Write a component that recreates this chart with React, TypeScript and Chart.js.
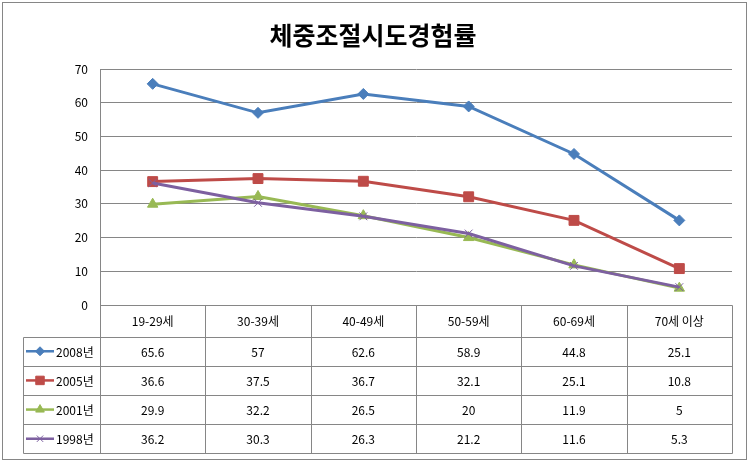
import React, { useEffect, useRef } from "react";
import { Chart, registerables } from "chart.js";
import { drawPoint } from "chart.js/helpers";

Chart.register(...registerables);

const title = "체중조절시도경험률";
const categories = ["19-29세", "30-39세", "40-49세", "50-59세", "60-69세", "70세 이상"];
const seriesNames = ["2008년", "2005년", "2001년", "1998년"];
const v2008 = [65.6, 57, 62.6, 58.9, 44.8, 25.1];
const v2005 = [36.6, 37.5, 36.7, 32.1, 25.1, 10.8];
const v2001 = [29.9, 32.2, 26.5, 20, 11.9, 5];
const v1998 = [36.2, 30.3, 26.3, 21.2, 11.6, 5.3];
const yTicks = [0, 10, 20, 30, 40, 50, 60, 70];

const colors = ["#4A7EBB", "#BE4B48", "#98B954", "#7D60A0"];
const shapes = ["rectRot", "rect", "triangle", "crossRot"];
const radii = [5.5, 7, 6, 5.5];
const FONT = "'Noto Sans CJK KR', 'Noto Sans', sans-serif";
const GRID = "#868686";

const tablePlugin = {
  id: "tableTitle",
  afterDraw(chart: any) {
    const { ctx, chartArea } = chart;
    const x = chart.scales.x;
    ctx.save();
    // outer border
    ctx.strokeStyle = GRID;
    ctx.lineWidth = 1;
    ctx.strokeRect(2.5, 2.5, 744, 457);
    // title
    ctx.fillStyle = "#000";
    ctx.font = `bold 25px ${FONT}`;
    ctx.textAlign = "center";
    ctx.textBaseline = "middle";
    ctx.fillText(title, 373, 35);

    // table geometry
    const half = (x.getPixelForValue(1) - x.getPixelForValue(0)) / 2;
    const edges: number[] = categories.map((_, i) => x.getPixelForValue(i) - half);
    edges.push(x.getPixelForValue(categories.length - 1) + half);
    const top = chartArea.bottom;
    const headerBottom = top + 31.7;
    const rowH = 29.15;
    const legendLeft = 23;
    const rowYs = [headerBottom];
    for (let r = 0; r < seriesNames.length; r++) rowYs.push(headerBottom + rowH * (r + 1));
    const bottom = rowYs[rowYs.length - 1];
    const px = (v: number) => Math.round(v) + 0.5;

    ctx.strokeStyle = GRID;
    ctx.lineWidth = 1;
    ctx.beginPath();
    ctx.moveTo(px(edges[0]), px(top));
    ctx.lineTo(px(edges[edges.length - 1]), px(top));
    for (const y of rowYs) {
      ctx.moveTo(px(legendLeft), px(y));
      ctx.lineTo(px(edges[edges.length - 1]), px(y));
    }
    for (const e of edges) {
      ctx.moveTo(px(e), px(top));
      ctx.lineTo(px(e), px(bottom));
    }
    ctx.moveTo(px(legendLeft), px(headerBottom));
    ctx.lineTo(px(legendLeft), px(bottom));
    ctx.stroke();

    // header
    ctx.fillStyle = "#000";
    ctx.font = `12px ${FONT}`;
    ctx.textAlign = "center";
    ctx.textBaseline = "middle";
    categories.forEach((c, i) => {
      ctx.fillText(c, x.getPixelForValue(i), (top + headerBottom) / 2 + 1);
    });

    // rows
    chart.data.datasets.forEach((ds: any, r: number) => {
      const cy = (rowYs[r] + rowYs[r + 1]) / 2 + 1;
      // legend swatch
      ctx.strokeStyle = colors[r];
      ctx.lineWidth = 2.5;
      ctx.beginPath();
      ctx.moveTo(26, cy - 1);
      ctx.lineTo(54, cy - 1);
      ctx.stroke();
      ctx.fillStyle = colors[r];
      ctx.strokeStyle = colors[r];
      ctx.lineWidth = 1;
      drawPoint(ctx, { pointStyle: shapes[r], radius: radii[r] - 1, rotation: 0, borderWidth: 1 } as any, 40, cy - 1);
      ctx.fillStyle = "#000";
      ctx.font = `12px ${FONT}`;
      ctx.textAlign = "left";
      ctx.fillText(seriesNames[r], 56, cy);
      ctx.textAlign = "center";
      ds.data.forEach((v: number, i: number) => {
        ctx.fillText(String(v), x.getPixelForValue(i), cy);
      });
    });
    ctx.restore();
  },
};

export default function App() {
  const ref = useRef<HTMLCanvasElement>(null);
  useEffect(() => {
    document.body.style.margin = "0";
    const seriesValues = [v2008, v2005, v2001, v1998];
    const chart = new Chart(ref.current!, {
      type: "line",
      data: {
        labels: categories,
        datasets: seriesValues.map((vals, i) => ({
          label: seriesNames[i],
          data: vals,
          borderColor: colors[i],
          backgroundColor: colors[i],
          borderWidth: 3,
          pointStyle: shapes[i] as any,
          pointRadius: radii[i],
          pointBorderWidth: 1,
          pointBorderColor: colors[i],
          pointBackgroundColor: colors[i],
          tension: 0,
          order: 4 - i,
        })),
      },
      options: {
        animation: false,
        responsive: false,
        devicePixelRatio: 1,
        layout: { padding: { top: 69, right: 17, bottom: 157, left: 0 } },
        plugins: { legend: { display: false }, tooltip: { enabled: false }, title: { display: false } },
        scales: {
          x: {
            type: "category",
            offset: true,
            display: false,
          },
          y: {
            min: 0,
            max: 70,
            afterBuildTicks: (scale: any) => {
              scale.ticks = yTicks.map((v) => ({ value: v }));
            },
            afterFit: (scale: any) => {
              scale.width = 100;
            },
            grid: { color: GRID, lineWidth: 1, drawTicks: false },
            border: { display: true, color: GRID, width: 1 },
            ticks: {
              padding: 12,
              color: "#000",
              font: { family: FONT, size: 12 },
            },
          },
        },
      },
      plugins: [tablePlugin],
    });
    return () => chart.destroy();
  }, []);
  return (
    <div style={{ position: "absolute", left: 0, top: 0, width: 749, height: 462, background: "#fff" }}>
      <canvas ref={ref} width={749} height={462} style={{ display: "block", width: 749, height: 462 }} />
    </div>
  );
}
